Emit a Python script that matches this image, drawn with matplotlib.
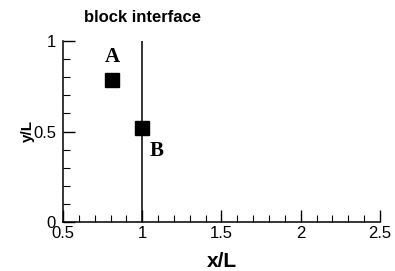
import numpy as np
import matplotlib
matplotlib.use("Agg")
import matplotlib.pyplot as plt
from matplotlib.ticker import MultipleLocator

# Probe points and the block interface
point_names = ["A", "B"]
point_x = [0.81, 1.0]
point_y = [0.787, 0.522]
label_x = [0.81, 1.093]
label_y = [0.91, 0.39]
interface_x = 1.0
interface_y = [0.0, 1.0]

x_ticks = [0.5, 1, 1.5, 2, 2.5]
x_ticklabels = ["0.5", "1", "1.5", "2", "2.5"]
y_ticks = [0, 0.5, 1]
y_ticklabels = ["0", "0.5", "1"]

plt.rcParams['font.family'] = ['Liberation Sans', 'DejaVu Sans']

fig = plt.figure(figsize=(3.95, 2.71), dpi=100)
ax = fig.add_axes([63 / 395, 49 / 271, 317 / 395, 181 / 271])

# interface line
ax.plot([interface_x, interface_x], interface_y, color='black', linewidth=1.1)

# probe markers
ax.plot(point_x, point_y, linestyle='none', marker='s', markersize=10,
        color='black', clip_on=False)
for name, lx, ly in zip(point_names, label_x, label_y):
    ax.text(lx, ly, name, ha='center', va='center', fontsize=15,
            fontweight='bold', family=['Liberation Serif', 'DejaVu Serif'])

ax.annotate("block interface", xy=(interface_x, 1.0),
            xycoords=('data', 'axes fraction'),
            xytext=(0, 17), textcoords='offset points',
            ha='center', va='center', fontsize=12, fontweight='bold')

ax.set_xlim(0.5, 2.5)
ax.set_ylim(0, 1)
ax.set_xticks(x_ticks)
ax.set_xticklabels(x_ticklabels)
ax.set_yticks(y_ticks)
ax.set_yticklabels(y_ticklabels)
ax.xaxis.set_minor_locator(MultipleLocator(0.1))
ax.yaxis.set_minor_locator(MultipleLocator(0.1))

for side in ['top', 'right']:
    ax.spines[side].set_visible(False)
for side in ['left', 'bottom']:
    ax.spines[side].set_linewidth(1.1)

ax.tick_params(which='major', direction='in', length=8.5, width=1.0,
               labelsize=12)
ax.tick_params(which='minor', direction='in', length=5, width=0.8)
ax.tick_params(axis='x', which='major', pad=3)
ax.tick_params(axis='y', which='major', pad=5)

ax.set_xlabel("x/L", fontsize=15, fontweight='bold', labelpad=8)
ax.set_ylabel("y/L", fontsize=11, fontweight='bold', labelpad=-1)

fig.savefig("out.png", dpi=100)
